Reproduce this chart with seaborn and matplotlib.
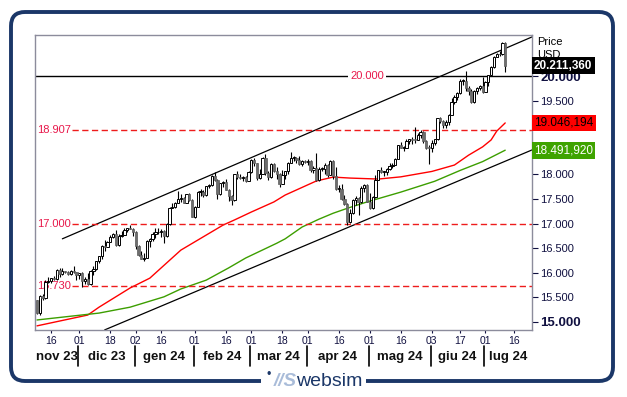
import numpy as np
import pandas as pd
import matplotlib
matplotlib.use("Agg")
import matplotlib.pyplot as plt
import matplotlib.transforms as mtransforms
from matplotlib.patches import FancyBboxPatch, Rectangle
import seaborn as sns

sns.set_style("white")
plt.rcParams['font.family'] = ['Liberation Sans', 'DejaVu Sans']

# calendario borsa USA (giorni di contrattazione)
holidays = ['2023-11-23', '2023-12-25', '2024-01-01', '2024-01-15', '2024-02-19',
            '2024-03-29', '2024-05-27', '2024-06-19', '2024-07-04']
days = pd.bdate_range('2023-11-09', '2024-07-31', freq='C', holidays=holidays)

first_open = 15440
close = [
    15187, 15529, 15482, 15812, 15841, 15896, 15880, 16063, 15969, 16030,
    16011, 15983, 16040, 16007, 15947, 15997, 15838, 15866, 15764, 16031,
    16085, 16229, 16341, 16535, 16531, 16623, 16717, 16787, 16556, 16742,
    16777, 16878, 16907, 16898, 16826, 16544, 16368, 16282, 16306, 16645,
    16677, 16792, 16820, 16832, 16842, 16744, 16993, 17314, 17330, 17424,
    17499, 17518, 17421, 17596, 17476, 17137, 17345, 17642, 17643, 17582,
    17757, 17783, 17962, 17882, 17600, 17815, 17845, 17686, 17566, 17478,
    18004, 17937, 17931, 17943, 17874, 18043, 18302, 18227, 17921, 18017,
    18339, 18018, 17942, 18208, 18060, 18007, 17809, 17985, 18062, 18240,
    18339, 18339, 18286, 18211, 18280, 18254, 18279, 18092, 18131, 17878,
    18108, 18119, 18196, 17983, 18275, 17963, 17706, 17706, 17494, 17394,
    17037, 17210, 17471, 17527, 17430, 17718, 17782, 17441, 17322, 17540,
    17890, 18082, 18052, 18052, 18113, 18161, 18199, 18322, 18593, 18546,
    18546, 18674, 18713, 18705, 18699, 18808, 18869, 18678, 18538, 18536,
    18631, 18711, 19143, 19090, 19000, 19075, 19212, 19465, 19576, 19660,
    19904, 19908, 19752, 19701, 19474, 19701, 19753, 19789, 19683, 19879,
    20011, 20187, 20392, 20440, 20439, 20676, 20211]
high = [
    15450, 15540, 15560, 15850, 15920, 15900, 15940, 16080, 16090, 16100,
    16040, 16030, 16060, 16140, 16010, 16000, 16020, 15920, 15990, 16060,
    16130, 16240, 16350, 16560, 16660, 16650, 16760, 16800, 16860, 16780,
    16850, 16900, 16920, 16970, 16920, 16850, 16560, 16450, 16400, 16660,
    16700, 16830, 16900, 16900, 16880, 16860, 17010, 17330, 17420, 17440,
    17660, 17600, 17540, 17600, 17620, 17490, 17360, 17660, 17700, 17680,
    17770, 17800, 17980, 18040, 17900, 17830, 17860, 17900, 17700, 17590,
    18010, 18070, 18010, 17970, 17960, 18070, 18310, 18330, 18240, 18100,
    18350, 18416, 18060, 18230, 18230, 18150, 18020, 18090, 18070, 18260,
    18460, 18380, 18360, 18380, 18290, 18300, 18320, 18290, 18180, 18430,
    18150, 18160, 18230, 18210, 18300, 18290, 18160, 17780, 17800, 17580,
    17420, 17300, 17500, 17560, 17540, 17760, 17800, 17800, 17620, 17560,
    17980, 18090, 18150, 18070, 18120, 18240, 18230, 18330, 18600, 18650,
    18570, 18710, 18720, 18760, 18960, 18840, 18900, 18880, 18700, 18600,
    18700, 18720, 19150, 19170, 19100, 19100, 19220, 19550, 19610, 19670,
    19930, 19930, 20100, 19800, 19730, 19710, 19780, 19820, 19980, 19890,
    20020, 20200, 20400, 20470, 20500, 20690, 20690]
low = [
    15170, 15150, 15440, 15470, 15800, 15800, 15850, 15860, 15920, 15950,
    15990, 15960, 15950, 15990, 15850, 15880, 15720, 15780, 15760, 15750,
    15950, 16050, 16190, 16280, 16440, 16520, 16620, 16700, 16550, 16540,
    16720, 16760, 16830, 16880, 16750, 16480, 16350, 16270, 16230, 16290,
    16520, 16650, 16710, 16790, 16730, 16600, 16720, 16980, 17310, 17320,
    17410, 17430, 17410, 17410, 17460, 17130, 17120, 17330, 17560, 17540,
    17570, 17730, 17770, 17870, 17500, 17590, 17740, 17680, 17450, 17380,
    17460, 17900, 17910, 17870, 17840, 17860, 18030, 18180, 17880, 17900,
    18000, 17990, 17880, 17930, 18040, 17910, 17740, 17800, 17900, 18010,
    18230, 18280, 18240, 18200, 18170, 18230, 18200, 18040, 18030, 17870,
    17860, 18070, 18000, 17950, 17980, 17910, 17690, 17650, 17480, 17380,
    16970, 17010, 17190, 17380, 17180, 17420, 17640, 17430, 17290, 17300,
    17530, 17880, 18030, 17960, 17990, 18080, 18120, 18200, 18320, 18540,
    18480, 18540, 18620, 18620, 18640, 18690, 18740, 18640, 18520, 18220,
    18450, 18600, 18700, 19040, 18950, 18950, 19000, 19200, 19440, 19520,
    19640, 19820, 19700, 19620, 19460, 19460, 19630, 19710, 19660, 19670,
    19800, 20000, 20170, 20380, 20400, 20430, 20080]

# medie mobili
ma_red_dates = ['2023-11-09', '2023-12-06', '2023-12-12', '2023-12-28', '2024-01-09',
                '2024-01-25', '2024-02-15', '2024-02-22', '2024-03-01', '2024-03-13',
                '2024-03-19', '2024-04-04', '2024-04-12', '2024-04-22', '2024-05-06',
                '2024-05-16', '2024-06-03', '2024-06-13', '2024-06-21', '2024-06-28',
                '2024-07-03', '2024-07-08', '2024-07-11']
ma_red = [14920, 15140, 15300, 15690, 15890,
          16460, 16970, 17073, 17235, 17440,
          17580, 17865, 17945, 17925, 17905,
          17950, 18060, 18190, 18390, 18560,
          18700, 18880, 19046.194]
ma_green_dates = ['2023-11-09', '2023-12-12', '2023-12-28', '2024-01-17', '2024-01-25',
                  '2024-02-07', '2024-02-20', '2024-02-28', '2024-03-14', '2024-03-19',
                  '2024-03-27', '2024-04-05', '2024-04-12', '2024-04-19', '2024-04-30',
                  '2024-05-16', '2024-06-04', '2024-06-17', '2024-06-28', '2024-07-11']
ma_green = [15040, 15180, 15300, 15510, 15670,
            15850, 16100, 16300, 16600, 16690,
            16930, 17090, 17210, 17310, 17440,
            17640, 17860, 18080, 18260, 18491.92]

# canale (due punti per linea)
channel_up_dates = ['2023-11-22', '2024-07-25']
channel_up = [16690, 20807]
channel_dn_dates = ['2023-12-14', '2024-07-25']
channel_dn = [14838, 18509]

levels_dashed = [18907, 17000, 15730]
level_labels = ['18.907', '17.000', '15.730']

# 18.500 e 19.000 restano coperti dai box delle medie
ytick_vals = [15000, 15500, 16000, 16500, 17000, 17500, 18000, 18500, 19000, 19500, 20000]
ytick_labels = ['15.000', '15.500', '16.000', '16.500', '17.000', '17.500',
                '18.000', '', '', '19.500', '20.000']

day_ticks = ['2023-11-16', '2023-12-01', '2023-12-18', '2024-01-02', '2024-01-16',
             '2024-02-01', '2024-02-16', '2024-03-01', '2024-03-18', '2024-04-01',
             '2024-04-16', '2024-05-01', '2024-05-16', '2024-06-03', '2024-06-17',
             '2024-07-01', '2024-07-16']
month_starts = ['2023-12-01', '2024-01-02', '2024-02-01', '2024-03-01', '2024-04-01',
                '2024-05-01', '2024-06-03', '2024-07-01']
month_labels = ['nov 23', 'dic 23', 'gen 24', 'feb 24', 'mar 24', 'apr 24',
                'mag 24', 'giu 24', 'lug 24']


def pos(d):
    return days.get_loc(pd.Timestamp(d))


NAVY = '#1b3768'
CRIMSON = '#e8174a'
XMIN, XMAX = -0.7, 175.5
YMIN, YMAX = 14836, 20834

fig = plt.figure(figsize=(6.27, 3.97), dpi=100)

# cornice esterna + logo
bg = fig.add_axes([0, 0, 1, 1])
bg.set_xlim(0, 627)
bg.set_ylim(397, 0)
bg.axis('off')
bg.add_patch(FancyBboxPatch((11, 12), 602, 369, boxstyle='round,pad=0,rounding_size=14',
                            fill=False, ec=NAVY, lw=2.8))
bg.add_patch(Rectangle((261, 372), 105, 18, fc='white', ec='none', zorder=3))
bg.text(269, 375, '•', color=NAVY, fontsize=9, ha='center', va='center', zorder=4)
bg.text(285, 382, '//S', color='#a9bcd9', fontsize=13.5, fontweight='bold', style='italic',
        ha='center', va='center', zorder=4)
bg.text(329, 382, 'websim', color=NAVY, fontsize=14, ha='center', va='center', zorder=4)

ax = fig.add_axes([35 / 627, 1 - 330 / 397, 497 / 627, 295 / 397])
ax.set_zorder(2)

# candele
c = np.array(close, dtype=float)
o = np.array([first_open] + close[:-1], dtype=float)
h = np.maximum(np.array(high, dtype=float), np.maximum(o, c))
lo = np.minimum(np.array(low, dtype=float), np.minimum(o, c))
x = np.arange(len(c))
up = c >= o
body_lo = np.minimum(o, c)
body_h = np.maximum(np.abs(c - o), 15)

ax.vlines(x, lo, h, color='black', lw=0.8, zorder=3)
ax.bar(x[up], body_h[up], bottom=body_lo[up], width=0.8, color='white',
       edgecolor='black', linewidth=0.7, zorder=4)
ax.bar(x[~up], body_h[~up], bottom=body_lo[~up], width=0.8, color='#6e6e6e',
       edgecolor='#5a5a5a', linewidth=0.5, zorder=4)

# medie mobili
sns.lineplot(x=[pos(d) for d in ma_red_dates], y=ma_red, color='#ff0000', lw=1, ax=ax, zorder=2)
sns.lineplot(x=[pos(d) for d in ma_green_dates], y=ma_green, color='#3c9e00', lw=1, ax=ax, zorder=2)

# canale
ax.plot([pos(d) for d in channel_up_dates], channel_up, color='black', lw=0.9, zorder=2)
ax.plot([pos(d) for d in channel_dn_dates], channel_dn, color='black', lw=0.9, zorder=2)

# livelli
ax.axhline(20000, color='black', lw=1, zorder=2)
ax.text(pos('2024-05-01') - 1, 20000, '20.000', color=CRIMSON, fontsize=8, ha='center',
        va='center', zorder=5, bbox=dict(boxstyle='square,pad=0.15', fc='white', ec='none'))
for lv, lab in zip(levels_dashed, level_labels):
    ax.axhline(lv, xmin=0.074, color='#ee1c1c', lw=1, ls=(0, (4.5, 2.5)), zorder=2)
    ax.text(0.005, lv, lab, color=CRIMSON, fontsize=8, ha='left', va='center',
            transform=mtransforms.blended_transform_factory(ax.transAxes, ax.transData), zorder=2)

ax.set_xlim(XMIN, XMAX)
ax.set_ylim(YMIN, YMAX)
ax.set_xlabel('')
ax.set_ylabel('')

# assi
for sp in ax.spines.values():
    sp.set_color('#8c8c9c')
    sp.set_linewidth(1)

ax.yaxis.tick_right()
ax.set_yticks(ytick_vals)
ax.set_yticklabels(ytick_labels)
ax.tick_params(axis='y', direction='out', length=4, width=0.8, color='#101040',
               labelsize=8, labelcolor='#101040', pad=2, right=True, left=False)
for t in ax.get_yticklabels():
    if t.get_text() in ('15.000', '20.000'):
        t.set_fontsize(9.5)
        t.set_fontweight('bold')

ax.set_xticks([pos(d) for d in day_ticks])
ax.set_xticklabels([pd.Timestamp(d).strftime('%d') for d in day_ticks])
ax.tick_params(axis='x', direction='out', length=2.5, width=0.8, color='#101040',
               labelsize=7.5, labelcolor='#101040', pad=1.5, bottom=True)

# etichette mesi
trans_x = mtransforms.blended_transform_factory(ax.transData, ax.transAxes)
bounds = [XMIN] + [pos(d) - 0.4 for d in month_starts] + [XMAX]
for i, lab in enumerate(month_labels):
    ax.text((bounds[i] + bounds[i + 1]) / 2, -0.092, lab, transform=trans_x, ha='center',
            va='center', fontsize=9.5, fontweight='bold', color='#111111', clip_on=False)
for b in bounds[1:-1]:
    ax.plot([b, b], [-0.055, -0.122], transform=trans_x, color='black', lw=1.2, clip_on=False)

# box valori a destra
trans_y = mtransforms.blended_transform_factory(ax.transAxes, ax.transData)
ax.text(1.004, c[-1], '20.211,360', transform=trans_y, ha='left', va='center', fontsize=8.5,
        fontweight='bold', color='white', zorder=6, clip_on=False,
        bbox=dict(boxstyle='square,pad=0.2', fc='black', ec='none'))
ax.text(1.004, ma_red[-1], '19.046,194', transform=trans_y, ha='left', va='center', fontsize=8.5,
        color='black', zorder=6, clip_on=False,
        bbox=dict(boxstyle='square,pad=0.2', fc='#ff0000', ec='none'))
ax.text(1.004, ma_green[-1], '18.491,920', transform=trans_y, ha='left', va='center', fontsize=8.5,
        color='white', zorder=6, clip_on=False,
        bbox=dict(boxstyle='square,pad=0.2', fc='#3fa300', ec='none'))

fig.text(537 / 627, 1 - 42 / 397, 'Price', fontsize=8, ha='left', va='center', color='black')
fig.text(537 / 627, 1 - 55 / 397, 'USD', fontsize=8, ha='left', va='center', color='black')

fig.savefig('out.png', dpi=100)
